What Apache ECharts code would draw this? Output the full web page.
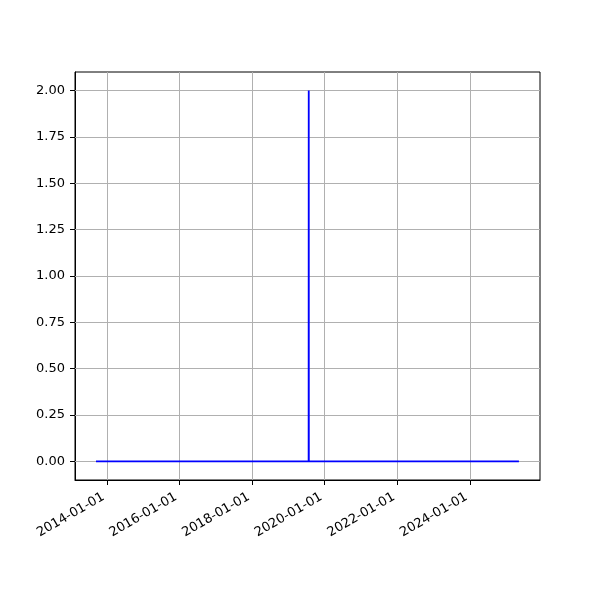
<!DOCTYPE html>
<html>
<head>
<meta charset="utf-8">
<script src="https://cdn.jsdelivr.net/npm/echarts@6/dist/echarts.min.js"></script>
<style>html,body{margin:0;padding:0;background:#fff}#c{width:600px;height:600px}</style>
</head>
<body>
<div id="c"></div>
<script>
var dates = ['2013-09-13', '2019-07-23', '2019-07-24', '2019-07-25', '2025-05-07'];
var values = [0, 0, 2, 0, 0];
var xTicks = ['2014-01-01', '2016-01-01', '2018-01-01', '2020-01-01', '2022-01-01', '2024-01-01'];
var yTicks = [0, 0.25, 0.5, 0.75, 1.0, 1.25, 1.5, 1.75, 2.0];
var xMin = '2013-02-14';
var xMax = '2025-12-05';
var yMin = -0.1, yMax = 2.1;

function ts(s) { return new Date(s + 'T00:00:00Z').getTime(); }
function pad(n) { return (n < 10 ? '0' : '') + n; }
function fmtDate(v) {
  var d = new Date(v);
  return d.getUTCFullYear() + '-' + pad(d.getUTCMonth() + 1) + '-' + pad(d.getUTCDate());
}

var xTickTs = xTicks.map(ts);
var font = 'DejaVu Sans';
var chart = echarts.init(document.getElementById('c'), null, {renderer: 'canvas'});
var gridStyle = {color: '#b0b0b0', width: 1, type: 'solid'};
chart.setOption({
  animation: false,
  backgroundColor: '#fff',
  grid: {left: 75, right: 60, top: 72, bottom: 120, show: true, borderColor: '#000', borderWidth: 1, backgroundColor: 'transparent'},
  xAxis: {
    type: 'value',
    min: ts(xMin), max: ts(xMax),
    axisLine: {show: true, onZero: false, lineStyle: {color: '#000', width: 1}},
    axisTick: {show: true, customValues: xTickTs, length: 5, lineStyle: {color: '#000', width: 1}},
    axisLabel: {customValues: xTickTs, formatter: function (v) { return fmtDate(v); }, rotate: 30, color: '#000', fontFamily: font, fontSize: 13, margin: 14, padding: [0, 4, 0, 0]},
    splitLine: {show: false}
  },
  yAxis: {
    type: 'value',
    min: yMin, max: yMax,
    axisLine: {show: true, onZero: false, lineStyle: {color: '#000', width: 1}},
    axisTick: {show: true, customValues: yTicks, length: 5, lineStyle: {color: '#000', width: 1}},
    axisLabel: {customValues: yTicks, formatter: function (v) { return v.toFixed(2); }, color: '#000', fontFamily: font, fontSize: 13, margin: 10},
    splitLine: {show: false}
  },
  series: [
    {
      type: 'line', data: [], z: 1, silent: true,
      markLine: {
        silent: true, symbol: ['none', 'none'], label: {show: false}, animation: false,
        lineStyle: gridStyle,
        data: xTickTs.map(function (t) { return {xAxis: t}; }).concat(yTicks.map(function (v) { return {yAxis: v}; }))
      }
    },
    {
      type: 'line', z: 5,
      data: dates.map(function (d, i) { return [ts(d), values[i]]; }),
      showSymbol: false, symbol: 'none',
      lineStyle: {color: '#0000ff', width: 1.8},
      itemStyle: {color: '#0000ff'}
    }
  ]
});
</script>
</body>
</html>
